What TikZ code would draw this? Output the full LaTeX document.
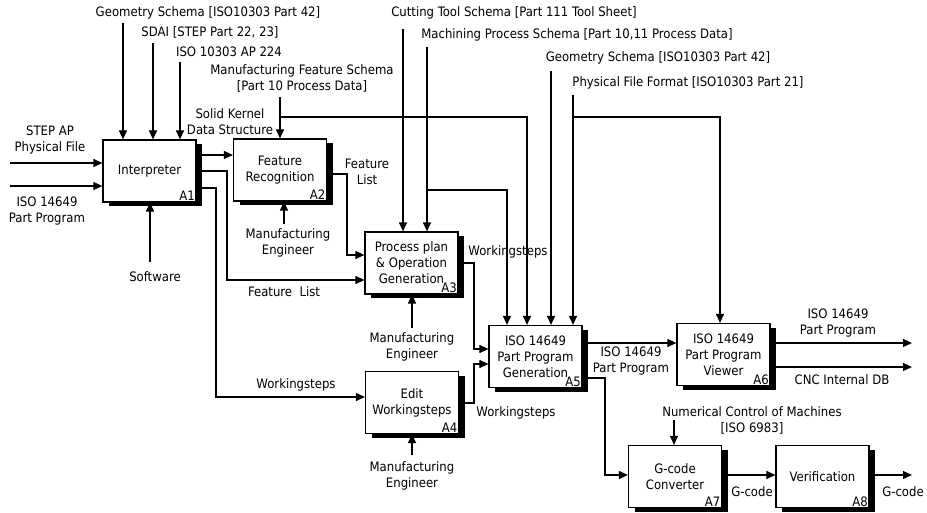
\documentclass[tikz,border=0pt]{standalone}
\usepackage{fontspec}
\setmainfont{DejaVu Sans Condensed}
\usetikzlibrary{arrows.meta,shadows}
\tikzset{
  box/.style={draw, line width=1.2pt, fill=white, minimum width=93pt, minimum height=62pt,
    inner sep=0pt, align=center,
    drop shadow={shadow xshift=6pt, shadow yshift=-4.5pt, fill=black, opacity=1}},
  anum/.style={anchor=south east, inner sep=1.5pt},
  lbl/.style={align=center, inner sep=0pt},
  flow/.style={line width=1.15pt, -{Triangle[length=9pt,width=8pt]}},
  wire/.style={line width=1.15pt}
}
\begin{document}
\begin{tikzpicture}[x=1pt,y=-1pt, font=\fontsize{13}{16}\selectfont]
\useasboundingbox[fill=white] (0,0) rectangle (927,513);

% boxes
\node[box] (A1) at (149.5,171) {Interpreter};
\node[box] (A2) at (280,170) {Feature\\Recognition};
\node[box] (A3) at (411.5,263) {Process plan\\\& Operation\\Generation};
\node[box] (A4) at (412,402.5) {Edit\\Workingsteps};
\node[box] (A5) at (535.5,356.5) {ISO 14649\\Part Program\\Generation};
\node[box] (A6) at (723.5,354.5) {ISO 14649\\Part Program\\Viewer};
\node[box] (A7) at (675,476.5) {G-code\\Converter};
\node[box] (A8) at (822.5,476.5) {Verification};
\node[anum] (n1) at (A1.south east) {A1};
\node[anum] (n2) at (A2.south east) {A2};
\node[anum] (n3) at (A3.south east) {A3};
\node[anum] (n4) at (A4.south east) {A4};
\node[anum] (n5) at (A5.south east) {A5};
\node[anum] (n6) at (A6.south east) {A6};
\node[anum] (n7) at (A7.south east) {A7};
\node[anum] (n8) at (A8.south east) {A8};

% labels
\node[lbl] (t1) at (208,13) {Geometry Schema [ISO10303 Part 42]};
\node[lbl] (t2) at (210,32) {SDAI [STEP Part 22, 23]};
\node[lbl] (t3) at (229,52) {ISO 10303 AP 224};
\node[lbl] (t4) at (302,78) {Manufacturing Feature Schema\\{}[Part 10 Process Data]};
\node[lbl] (t5) at (230,122) {Solid Kernel\\Data Structure};
\node[lbl] (t6) at (50,140) {STEP AP\\Physical File};
\node[lbl] (t7) at (47,211) {ISO 14649\\Part Program};
\node[lbl] (t8) at (155,277) {Software};
\node[lbl] (t9) at (288,243) {Manufacturing\\Engineer};
\node[lbl] (t10) at (284,292) {Feature\ \ List};
\node[lbl] (t11) at (367,172) {Feature\\List};
\node[lbl] (t12) at (514,13) {Cutting Tool Schema [Part 111 Tool Sheet]};
\node[lbl] (t13) at (577,35) {Machining Process Schema [Part 10,11 Process Data]};
\node[lbl] (t14) at (658,58) {Geometry Schema [ISO10303 Part 42]};
\node[lbl] (t15) at (688,83) {Physical File Format [ISO10303 Part 21]};
\node[lbl] (t16) at (508,252) {Workingsteps};
\node[lbl] (t17) at (412,347) {Manufacturing\\Engineer};
\node[lbl] (t18) at (296,385) {Workingsteps};
\node[lbl] (t19) at (412,476) {Manufacturing\\Engineer};
\node[lbl] (t20) at (516,413) {Workingsteps};
\node[lbl] (t21) at (631,361) {ISO 14649\\Part Program};
\node[lbl] (t22) at (838,323) {ISO 14649\\Part Program};
\node[lbl] (t23) at (842,380) {CNC Internal DB};
\node[lbl] (t24) at (752,420) {Numerical Control of Machines\\{}[ISO 6983]};
\node[lbl] (t25) at (752,492) {G-code};
\node[lbl] (t26) at (903,492) {G-code};

% free ends
\coordinate (s1) at (123,23);
\coordinate (s2) at (153,43);
\coordinate (s3) at (180,62);
\coordinate (s4) at (280,97);
\coordinate (s5) at (10,163);
\coordinate (s6) at (10,186);
\coordinate (s7) at (150,262);
\coordinate (s8) at (284,224);
\coordinate (s9) at (403,29);
\coordinate (s10) at (427,47);
\coordinate (s11) at (551,71);
\coordinate (s12) at (573,95);
\coordinate (s13) at (412,328);
\coordinate (s14) at (412,455);
\coordinate (s15) at (674,420);
\coordinate (e1) at (912,343);
\coordinate (e2) at (912,367);
\coordinate (e3) at (912,475);

% controls / inputs
\draw[flow] (s1) -- (s1 |- A1.north);
\draw[flow] (s2) -- (s2 |- A1.north);
\draw[flow] (s3) -- (s3 |- A1.north);
\draw[flow] (s4) -- (s4 |- A2.north);
\draw[flow] (280,117) -- (527,117) -- (527,117 |- A5.north);
\draw[flow] (s5) -- (s5 -| A1.west);
\draw[flow] (s6) -- (s6 -| A1.west);
\draw[flow] (s7) -- (s7 |- A1.south);
\draw[flow] (s8) -- (s8 |- A2.south);
\draw[flow] (s9) -- (s9 |- A3.north);
\draw[flow] (s10) -- (s10 |- A3.north);
\draw[flow] (427,190) -- (507,190) -- (507,190 |- A5.north);
\draw[flow] (s11) -- (s11 |- A5.north);
\draw[flow] (s12) -- (s12 |- A5.north);
\draw[flow] (573,117) -- (720,117) -- (720,117 |- A6.north);
\draw[flow] (s13) -- (s13 |- A3.south);
\draw[flow] (s14) -- (s14 |- A4.south);
\draw[flow] (s15) -- (s15 |- A7.north);

% flows between boxes
\draw[flow] (A1.east |- 0,155) -- (A2.west |- 0,155);
\draw[flow] (A1.east |- 0,171) -- (227,171) -- (227,280) -- (A3.west |- 0,280);
\draw[flow] (A1.east |- 0,188) -- (216,188) -- (216,397) -- (A4.west |- 0,397);
\draw[flow] (A2.east |- 0,174) -- (347,174) -- (347,255) -- (A3.west |- 0,255);
\draw[flow] (A3.east |- 0,263) -- (474,263) -- (474,349) -- (A5.west |- 0,349);
\draw[flow] (A4.east |- 0,403) -- (474,403) -- (474,364) -- (A5.west |- 0,364);
\draw[flow] (A5.east |- 0,343) -- (A6.west |- 0,343);
\draw[flow] (A5.east |- 0,378) -- (605,378) -- (605,475) -- (A7.west |- 0,475);
\draw[flow] (A6.east |- e1) -- (e1);
\draw[flow] (A6.east |- e2) -- (e2);
\draw[flow] (A7.east |- 0,475) -- (A8.west |- 0,475);
\draw[flow] (A8.east |- e3) -- (e3);
\end{tikzpicture}
\end{document}
